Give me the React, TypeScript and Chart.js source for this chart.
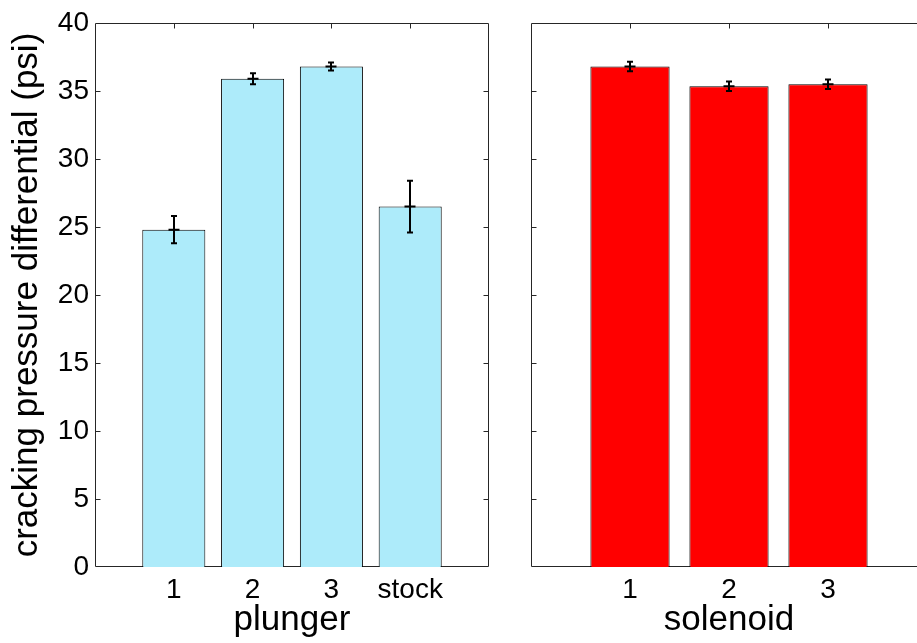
import React, { useEffect, useRef } from "react";
import { Chart, registerables } from "chart.js";

Chart.register(...registerables);

// Cracking pressure differential by valve type
const plungerLabels = ["1", "2", "3", "stock"];
const plungerMeans = [24.8, 35.9, 36.8, 26.5];
const plungerErrors = [1.0, 0.4, 0.3, 1.9];

const solenoidLabels = ["1", "2", "3"];
const solenoidMeans = [36.8, 35.35, 35.5];
const solenoidErrors = [0.35, 0.35, 0.35];

const yMin = 0;
const yMax = 40;
const yStep = 5;

const FONT = "'Liberation Sans', Arial, Helvetica, sans-serif";
const AXIS_COLOR = "#262626";
const W = 917;
const H = 643;

// Box around the plot area with MATLAB-style inward tick marks, plus error bars
const boxPlugin = {
  id: "boxTicks",
  beforeDatasetsDraw(chart: any) {
    const { ctx, chartArea: a, scales } = chart;
    const len = 5;
    ctx.save();
    ctx.strokeStyle = AXIS_COLOR;
    ctx.lineWidth = 1;
    const L = Math.round(a.left) + 0.5;
    const R = Math.round(a.right) - 0.5;
    const T = Math.round(a.top) + 0.5;
    const B = Math.round(a.bottom) - 0.5;
    ctx.beginPath();
    ctx.rect(L, T, R - L, B - T);
    ctx.stroke();
    ctx.beginPath();
    for (const t of scales.y.ticks) {
      const y = Math.round(scales.y.getPixelForValue(t.value)) + 0.5;
      if (t.value === yMin || t.value === yMax) continue;
      ctx.moveTo(L, y);
      ctx.lineTo(L + len, y);
      ctx.moveTo(R, y);
      ctx.lineTo(R - len, y);
    }
    const xs = scales.x;
    for (const t of xs.ticks) {
      if (t.value <= xs.min || t.value >= xs.max) continue;
      const x = Math.round(xs.getPixelForValue(t.value)) + 0.5;
      ctx.moveTo(x, T);
      ctx.lineTo(x, T + len);
      ctx.moveTo(x, B);
      ctx.lineTo(x, B - len);
    }
    ctx.stroke();
    ctx.restore();
  },
  afterDatasetsDraw(chart: any) {
    const { ctx, scales } = chart;
    ctx.save();
    ctx.strokeStyle = "#000";
    ctx.lineWidth = 2;
    chart.data.datasets.forEach((ds: any) => {
      const errs: number[] = ds.errors || [];
      ds.data.forEach((p: any, i: number) => {
        const e = errs[i];
        if (e == null) return;
        const x = Math.round(scales.x.getPixelForValue(p.x));
        const yTop = scales.y.getPixelForValue(p.y + e);
        const yBot = scales.y.getPixelForValue(p.y - e);
        const yMid = scales.y.getPixelForValue(p.y);
        const cap = 3;
        ctx.beginPath();
        ctx.moveTo(x, yTop);
        ctx.lineTo(x, yBot);
        ctx.moveTo(x - cap, yTop);
        ctx.lineTo(x + cap, yTop);
        ctx.moveTo(x - cap, yBot);
        ctx.lineTo(x + cap, yBot);
        ctx.moveTo(x - 5.5, yMid);
        ctx.lineTo(x + 5.5, yMid);
        ctx.stroke();
      });
    });
    ctx.restore();
  },
};

function makeConfig(opts: {
  labels: string[];
  means: number[];
  errors: number[];
  color: string;
  xMax: number;
  title: string;
  leftWidth: number;
  rightPad: number;
  showY: boolean;
}): any {
  return {
    type: "bar",
    data: {
      datasets: [
        {
          data: opts.means.map((v, i) => ({ x: i + 1, y: v })),
          errors: opts.errors,
          backgroundColor: opts.color,
          borderColor: "#000",
          borderWidth: 1,
          barPercentage: 0.8,
          categoryPercentage: 1,
        },
      ],
    },
    options: {
      responsive: false,
      animation: false,
      devicePixelRatio: 1,
      layout: { padding: { top: 23, right: opts.rightPad, left: 0, bottom: 0 } },
      plugins: {
        legend: { display: false },
        tooltip: { enabled: false },
      },
      scales: {
        x: {
          type: "linear",
          min: 0,
          max: opts.xMax,
          offset: false,
          grid: { display: false, offset: false, drawTicks: false },
          border: { display: false },
          afterFit: (s: any) => {
            s.height = 76;
          },
          ticks: {
            stepSize: 1,
            autoSkip: false,
            maxRotation: 0,
            minRotation: 0,
            padding: 6,
            color: "#000",
            font: { family: FONT, size: 28 },
            callback: (v: number) => {
              const k = Math.round(v);
              return k >= 1 && k <= opts.labels.length ? opts.labels[k - 1] : "";
            },
          },
          title: {
            display: true,
            text: opts.title,
            color: "#000",
            font: { family: FONT, size: 35, lineHeight: 1 },
            padding: { top: 0, bottom: 5 },
          },
        },
        y: {
          type: "linear",
          min: yMin,
          max: yMax,
          grid: { display: false, drawTicks: false },
          border: { display: false },
          afterFit: (s: any) => {
            s.width = opts.leftWidth;
          },
          ticks: {
            display: opts.showY,
            stepSize: yStep,
            padding: 6,
            color: "#000",
            font: { family: FONT, size: 28 },
          },
          title: {
            display: opts.showY,
            text: "cracking pressure differential (psi)",
            color: "#000",
            font: { family: FONT, size: 35, lineHeight: 1 },
            padding: { top: 10, bottom: 0 },
          },
        },
      },
    },
    plugins: [boxPlugin],
  };
}

export default function App() {
  const leftRef = useRef<HTMLCanvasElement>(null);
  const rightRef = useRef<HTMLCanvasElement>(null);

  useEffect(() => {
    const left = new Chart(
      leftRef.current!,
      makeConfig({
        labels: plungerLabels,
        means: plungerMeans,
        errors: plungerErrors,
        color: "#ADEBFA",
        xMax: 5,
        title: "plunger",
        leftWidth: 95,
        rightPad: W - 489,
        showY: true,
      })
    );
    const right = new Chart(
      rightRef.current!,
      makeConfig({
        labels: solenoidLabels,
        means: solenoidMeans,
        errors: solenoidErrors,
        color: "#FF0000",
        xMax: 4,
        title: "solenoid",
        leftWidth: 531,
        rightPad: 1000 - 927,
        showY: false,
      })
    );
    return () => {
      left.destroy();
      right.destroy();
    };
  }, []);

  return (
    <div
      style={{
        position: "fixed",
        left: 0,
        top: 0,
        width: W,
        height: H,
        overflow: "hidden",
        background: "#fff",
      }}
    >
      <canvas
        ref={rightRef}
        width={1000}
        height={H}
        style={{ position: "absolute", left: 0, top: 0, width: 1000, height: H }}
      />
      <canvas
        ref={leftRef}
        width={W}
        height={H}
        style={{ position: "absolute", left: 0, top: 0, width: W, height: H }}
      />
    </div>
  );
}
